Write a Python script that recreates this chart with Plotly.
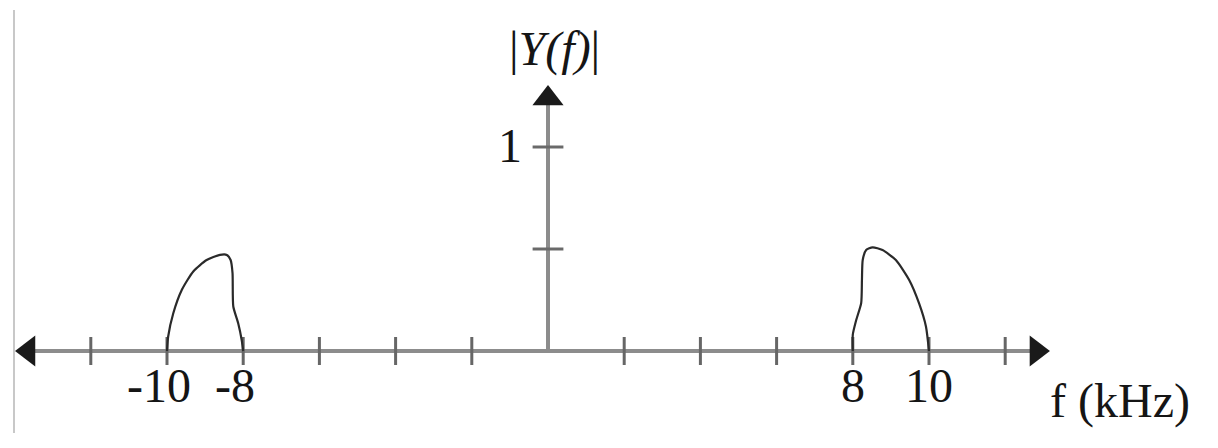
import plotly.graph_objects as go

# ---- data ----
tick_freqs = [-12, -10, -8, -6, -4, -2, 2, 4, 6, 8, 10, 12]
labelled_freqs = [-10, -8, 8, 10]
labelled_text = ["-10", "-8", "8", "10"]
y_tick_vals = [0.5, 1]
y_label_val = 1
y_label_text = "1"

left_f = [-10.0, -9.97, -9.835, -9.61, -9.31, -8.96, -8.61, -8.43, -8.33, -8.28, -8.26, -8.13, -8.04, -8.0]
left_mag = [0.0, 0.07, 0.185, 0.30, 0.39, 0.446, 0.471, 0.471, 0.446, 0.382, 0.218, 0.135, 0.054, 0.0]

right_f = [8.0, 8.0, 8.09, 8.22, 8.24, 8.26, 8.35, 8.52, 8.78, 9.13, 9.48, 9.74, 9.92, 10.0]
right_mag = [0.0, 0.08, 0.152, 0.235, 0.348, 0.446, 0.495, 0.508, 0.495, 0.446, 0.348, 0.233, 0.12, 0.0]

# arrowhead centres (axis ends)
arrow_left_x, arrow_right_x, arrow_top_y = -13.635, 12.82, 1.238

FONT = "Liberation Serif"
FS = 48
AX = "#8c8c8c"
TXT = "#151515"
ARROW = "#1a1a1a"

# page body has an 8px margin; the plot box starts at (8, 8)
OFF = 8
W, H = 1218 - OFF, 448 - OFF
X0PX, XSCALE = 548, 38.1
Y0PX, YSCALE = 351, 204

fig = go.Figure()

fig.add_trace(go.Scatter(x=[arrow_left_x, arrow_right_x], y=[0, 0], mode="lines",
                         line=dict(color=AX, width=4), hoverinfo="skip"))
fig.add_trace(go.Scatter(x=[0, 0], y=[0, arrow_top_y], mode="lines",
                         line=dict(color=AX, width=4), hoverinfo="skip"))

fig.add_trace(go.Scatter(x=tick_freqs, y=[0] * len(tick_freqs), mode="markers",
                         marker=dict(symbol="line-ns", size=20,
                                     line=dict(width=3, color="#666666")),
                         hoverinfo="skip"))
fig.add_trace(go.Scatter(x=[0] * len(y_tick_vals), y=y_tick_vals, mode="markers",
                         marker=dict(symbol="line-ew", size=22,
                                     line=dict(width=3, color="#6a6a6a")),
                         hoverinfo="skip"))

fig.add_trace(go.Scatter(x=[arrow_left_x], y=[0], mode="markers",
                         marker=dict(symbol="triangle-left", size=27, color=ARROW),
                         hoverinfo="skip"))
fig.add_trace(go.Scatter(x=[arrow_right_x], y=[0], mode="markers",
                         marker=dict(symbol="triangle-right", size=27, color=ARROW),
                         hoverinfo="skip"))
fig.add_trace(go.Scatter(x=[0], y=[arrow_top_y], mode="markers",
                         marker=dict(symbol="triangle-up", size=27, color=ARROW),
                         hoverinfo="skip"))

fig.add_trace(go.Scatter(x=left_f, y=left_mag, mode="lines",
                         line=dict(color="#2a2a2a", width=2.2, shape="spline", smoothing=0.6),
                         hoverinfo="skip"))
fig.add_trace(go.Scatter(x=right_f, y=right_mag, mode="lines",
                         line=dict(color="#2a2a2a", width=2.2, shape="spline", smoothing=0.6),
                         hoverinfo="skip"))

annotations = []
for f, t in zip(labelled_freqs, labelled_text):
    shift = -8 if t.startswith("-") else 0
    annotations.append(dict(x=f, y=0, xref="x", yref="y", text=t, showarrow=False,
                            xanchor="center", yanchor="middle", xshift=shift, yshift=-34,
                            font=dict(family=FONT, size=FS, color=TXT)))
annotations.append(dict(x=0, y=y_label_val, xref="x", yref="y", text=y_label_text,
                        showarrow=False, xanchor="right", yanchor="middle",
                        xshift=-24, yshift=2,
                        font=dict(family=FONT, size=FS, color=TXT)))
annotations.append(dict(x=0, y=1.48, xref="x", yref="y", text="|<i>Y(f)</i>|",
                        showarrow=False, xanchor="center", yanchor="middle", xshift=6,
                        font=dict(family=FONT, size=FS, color=TXT)))
annotations.append(dict(x=15.0, y=0, xref="x", yref="y", text="f (kHz)",
                        showarrow=False, xanchor="center", yanchor="middle", yshift=-50,
                        font=dict(family=FONT, size=FS, color=TXT)))

fig.update_layout(
    width=W, height=H,
    margin=dict(l=0, r=0, t=0, b=0),
    paper_bgcolor="white", plot_bgcolor="white",
    showlegend=False,
    xaxis=dict(visible=False, range=[(OFF - X0PX) / XSCALE, (1218 - X0PX) / XSCALE],
               fixedrange=True),
    yaxis=dict(visible=False, range=[(Y0PX - 448) / YSCALE, (Y0PX - OFF) / YSCALE],
               fixedrange=True),
    annotations=annotations,
    shapes=[dict(type="line", xref="paper", yref="paper",
                 x0=(14 - OFF) / W, x1=(14 - OFF) / W,
                 y0=1 - (10 - OFF) / H, y1=1 - (433 - OFF) / H,
                 line=dict(color="#c8c8c8", width=2))],
)

fig.write_html("out.html")
